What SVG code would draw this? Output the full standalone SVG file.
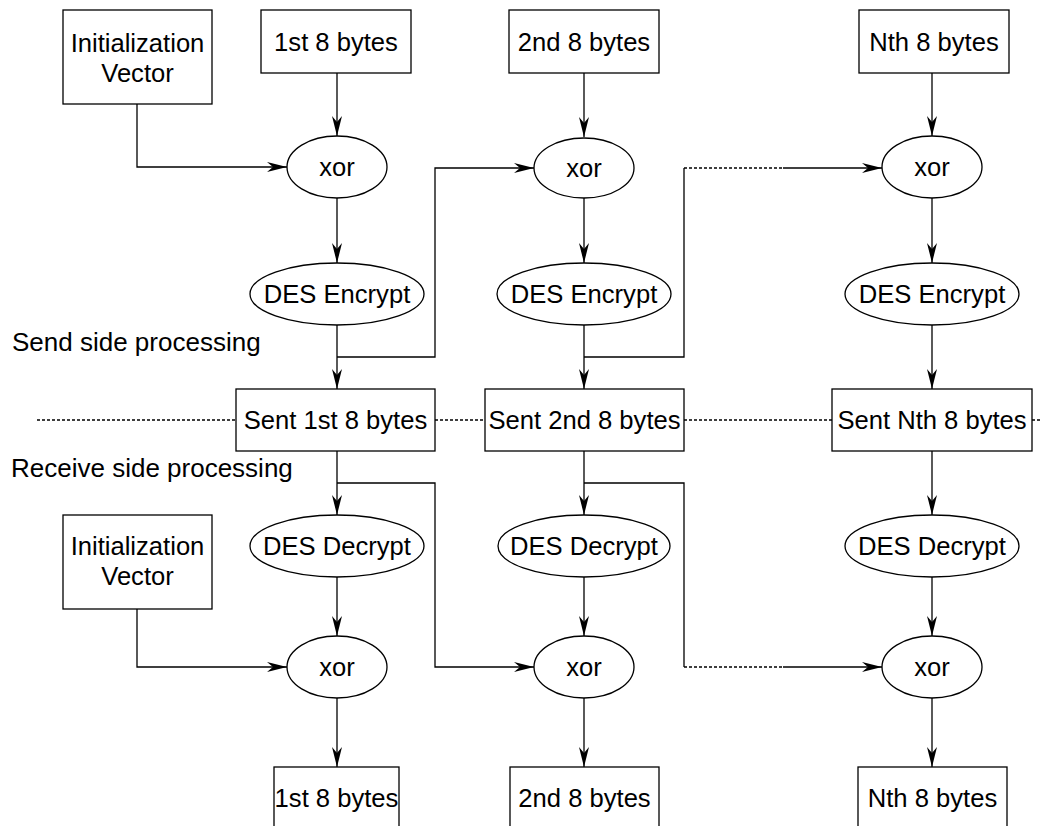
<svg xmlns="http://www.w3.org/2000/svg" width="1040" height="826" viewBox="0 0 1040 826">
  <style>
    .box { fill: #fff; stroke: #000; stroke-width: 1.3; }
    .op { fill: #fff; stroke: #000; stroke-width: 1.3; }
    .lbl { font-family: "Liberation Sans", Arial, sans-serif; font-size: 25.6px; fill: #000; text-anchor: middle; }
    .side { font-family: "Liberation Sans", Arial, sans-serif; font-size: 26px; fill: #000; }
    .wire { fill: none; stroke: #000; stroke-width: 1.3; }
    .dot { fill: none; stroke: #000; stroke-width: 1.3; stroke-dasharray: 3 2; }
  </style>
  <defs>
    <marker id="arrow" markerUnits="userSpaceOnUse" viewBox="0 0 20 10" refX="20" refY="5" markerWidth="20" markerHeight="10" orient="auto">
      <path d="M0,0 L20,5 L0,10 L6,5 Z" fill="#000"/>
    </marker>
  </defs>

  <!-- connectors -->
  <g id="connectors">
    <!-- send side: column 1 -->
    <path class="wire" d="M137,104 V167 H287" marker-end="url(#arrow)"/>
    <path class="wire" d="M337,73 V136" marker-end="url(#arrow)"/>
    <path class="wire" d="M337,198 V263" marker-end="url(#arrow)"/>
    <path class="wire" d="M337,325 V389" marker-end="url(#arrow)"/>
    <path class="wire" d="M337,357 H435 V168 H534" marker-end="url(#arrow)"/>
    <!-- send side: column 2 -->
    <path class="wire" d="M584,73 V137" marker-end="url(#arrow)"/>
    <path class="wire" d="M584,198 V263" marker-end="url(#arrow)"/>
    <path class="wire" d="M584,325 V389" marker-end="url(#arrow)"/>
    <path class="wire" d="M584,357 H684 V168"/>
    <path class="dot" d="M684,168 H783"/>
    <path class="wire" d="M783,168 H882" marker-end="url(#arrow)"/>
    <!-- send side: column N -->
    <path class="wire" d="M932,73 V136" marker-end="url(#arrow)"/>
    <path class="wire" d="M932,198 V263" marker-end="url(#arrow)"/>
    <path class="wire" d="M932,325 V389" marker-end="url(#arrow)"/>

    <!-- channel separator -->
    <path class="dot" d="M37,420 H236 M435,420 H485 M684,420 H832 M1032,420 H1040"/>

    <!-- receive side: column 1 -->
    <path class="wire" d="M337,451 V515" marker-end="url(#arrow)"/>
    <path class="wire" d="M337,483 H435 V667 H534" marker-end="url(#arrow)"/>
    <path class="wire" d="M137,609 V667 H287" marker-end="url(#arrow)"/>
    <path class="wire" d="M337,577 V636" marker-end="url(#arrow)"/>
    <path class="wire" d="M337,698 V767" marker-end="url(#arrow)"/>
    <!-- receive side: column 2 -->
    <path class="wire" d="M584,451 V515" marker-end="url(#arrow)"/>
    <path class="wire" d="M584,483 H684 V667"/>
    <path class="dot" d="M684,667 H783"/>
    <path class="wire" d="M783,667 H882" marker-end="url(#arrow)"/>
    <path class="wire" d="M584,577 V636" marker-end="url(#arrow)"/>
    <path class="wire" d="M584,698 V767" marker-end="url(#arrow)"/>
    <!-- receive side: column N -->
    <path class="wire" d="M932,451 V515" marker-end="url(#arrow)"/>
    <path class="wire" d="M932,577 V636" marker-end="url(#arrow)"/>
    <path class="wire" d="M932,698 V767" marker-end="url(#arrow)"/>
  </g>

  <!-- side labels -->
  <text class="side" x="12" y="351">Send side processing</text>
  <text class="side" x="11" y="477">Receive side processing</text>

  <!-- send side nodes -->
  <g id="iv-send">
    <rect class="box" x="63" y="10" width="149" height="94"/>
    <text class="lbl" x="137.5" y="52">Initialization</text>
    <text class="lbl" x="137.5" y="82">Vector</text>
  </g>
  <g id="plain-1">
    <rect class="box" x="261" y="10" width="150" height="63"/>
    <text class="lbl" x="336" y="51">1st 8 bytes</text>
  </g>
  <g id="plain-2">
    <rect class="box" x="509" y="10" width="150" height="63"/>
    <text class="lbl" x="584" y="51">2nd 8 bytes</text>
  </g>
  <g id="plain-n">
    <rect class="box" x="859" y="10" width="150" height="63"/>
    <text class="lbl" x="934" y="51">Nth 8 bytes</text>
  </g>
  <g id="xor-send-1">
    <ellipse class="op" cx="337" cy="167" rx="50" ry="31"/>
    <text class="lbl" x="337" y="176">xor</text>
  </g>
  <g id="xor-send-2">
    <ellipse class="op" cx="584" cy="168" rx="50" ry="30"/>
    <text class="lbl" x="584" y="177">xor</text>
  </g>
  <g id="xor-send-n">
    <ellipse class="op" cx="932" cy="167" rx="50" ry="31"/>
    <text class="lbl" x="932" y="176">xor</text>
  </g>
  <g id="enc-1">
    <ellipse class="op" cx="337" cy="294" rx="87" ry="31"/>
    <text class="lbl" x="337" y="303">DES Encrypt</text>
  </g>
  <g id="enc-2">
    <ellipse class="op" cx="584" cy="294" rx="87" ry="31"/>
    <text class="lbl" x="584" y="303">DES Encrypt</text>
  </g>
  <g id="enc-n">
    <ellipse class="op" cx="932" cy="294" rx="87" ry="31"/>
    <text class="lbl" x="932" y="303">DES Encrypt</text>
  </g>

  <!-- transmitted blocks -->
  <g id="sent-1">
    <rect class="box" x="236" y="389" width="199" height="62"/>
    <text class="lbl" x="335.5" y="429">Sent 1st 8 bytes</text>
  </g>
  <g id="sent-2">
    <rect class="box" x="485" y="389" width="199" height="62"/>
    <text class="lbl" x="584.5" y="429">Sent 2nd 8 bytes</text>
  </g>
  <g id="sent-n">
    <rect class="box" x="832" y="389" width="200" height="62"/>
    <text class="lbl" x="932" y="429">Sent Nth 8 bytes</text>
  </g>

  <!-- receive side nodes -->
  <g id="dec-1">
    <ellipse class="op" cx="337" cy="546" rx="87" ry="31"/>
    <text class="lbl" x="337" y="555">DES Decrypt</text>
  </g>
  <g id="dec-2">
    <ellipse class="op" cx="584" cy="546" rx="86" ry="31"/>
    <text class="lbl" x="584" y="555">DES Decrypt</text>
  </g>
  <g id="dec-n">
    <ellipse class="op" cx="932" cy="546" rx="87" ry="31"/>
    <text class="lbl" x="932" y="555">DES Decrypt</text>
  </g>
  <g id="iv-recv">
    <rect class="box" x="63" y="515" width="149" height="94"/>
    <text class="lbl" x="137.5" y="555">Initialization</text>
    <text class="lbl" x="137.5" y="585">Vector</text>
  </g>
  <g id="xor-recv-1">
    <ellipse class="op" cx="337" cy="667" rx="50" ry="31"/>
    <text class="lbl" x="337" y="676">xor</text>
  </g>
  <g id="xor-recv-2">
    <ellipse class="op" cx="584" cy="667" rx="50" ry="31"/>
    <text class="lbl" x="584" y="676">xor</text>
  </g>
  <g id="xor-recv-n">
    <ellipse class="op" cx="932" cy="667" rx="50" ry="31"/>
    <text class="lbl" x="932" y="676">xor</text>
  </g>
  <g id="out-1">
    <rect class="box" x="274" y="767" width="125" height="80"/>
    <text class="lbl" x="336.5" y="807">1st 8 bytes</text>
  </g>
  <g id="out-2">
    <rect class="box" x="510" y="767" width="149" height="80"/>
    <text class="lbl" x="584.5" y="807">2nd 8 bytes</text>
  </g>
  <g id="out-n">
    <rect class="box" x="858" y="767" width="149" height="80"/>
    <text class="lbl" x="932.5" y="807">Nth 8 bytes</text>
  </g>
</svg>
